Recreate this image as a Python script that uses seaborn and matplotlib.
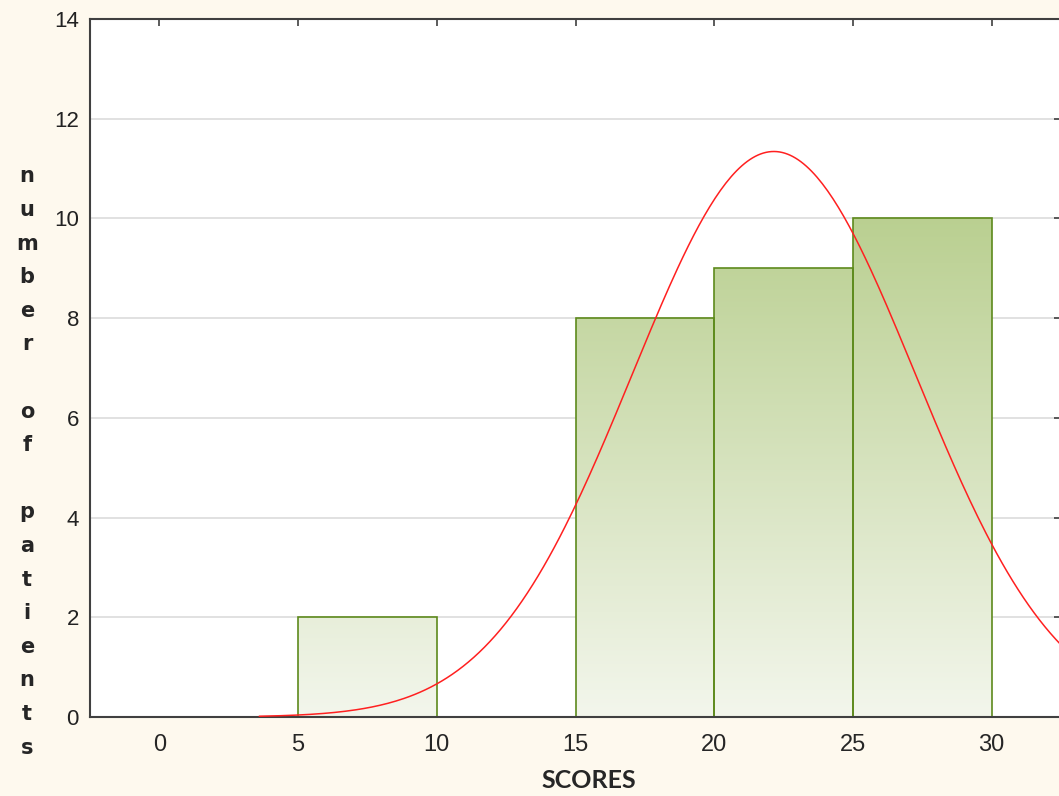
import numpy as np
import pandas as pd
import matplotlib.pyplot as plt
import seaborn as sns
from matplotlib.colors import LinearSegmentedColormap

# histogram data (bin start, count)
bin_starts = [0, 5, 10, 15, 20, 25]
counts = [0, 2, 0, 8, 9, 10]
bin_width = 5

# fitted normal curve parameters
fit_mean = 22.15
fit_sd = 5.1
curve_start = 3.6

x_ticks = [0, 5, 10, 15, 20, 25, 30]
y_ticks = [0, 2, 4, 6, 8, 10, 12, 14]
x_label = 'SCORES'
y_label = 'number of patients'

sns.set_style('white')
plt.rcParams['font.family'] = ['Liberation Sans', 'DejaVu Sans']

df = pd.DataFrame({'center': [b + bin_width / 2 for b in bin_starts], 'count': counts})

fig = plt.figure(figsize=(10.59, 7.96), dpi=100)
fig.patch.set_facecolor('#fef9ee')
ax = fig.add_axes([90 / 1059, 1 - 717 / 796, 971 / 1059, (717 - 19) / 796])
ax.set_facecolor('white')

sns.histplot(data=df, x='center', weights='count', binwidth=bin_width,
             binrange=(0, 30), ax=ax, fill=True, facecolor='none',
             edgecolor='#5d8a1c', linewidth=1.2, alpha=1)

ax.set_xlim(-2.5, 32.5)
ax.set_ylim(0, 14)

# vertical gradient fill, shared by all bars
cmap = LinearSegmentedColormap.from_list('g', ['#f3f6ec', '#b3cb86'])
grad = np.linspace(0, 1, 256).reshape(-1, 1)
for p in ax.patches:
    if p.get_height() <= 0:
        p.set_visible(False)
        continue
    im = ax.imshow(grad, cmap=cmap, origin='lower', aspect='auto',
                   extent=[-2.5, 32.5, 0, 11.2], zorder=1.5)
    im.set_clip_path(p)
    p.set_zorder(2)
ax.set_xlim(-2.5, 32.5)
ax.set_ylim(0, 14)

# normal fit curve scaled to counts
n_total = sum(counts)
xs = np.linspace(curve_start, 32.5, 300)
ys = n_total * bin_width / (fit_sd * np.sqrt(2 * np.pi)) * np.exp(-0.5 * ((xs - fit_mean) / fit_sd) ** 2)
sns.lineplot(x=xs, y=ys, ax=ax, color='#ff2020', linewidth=1.1, zorder=3)

ax.set_yticks(y_ticks)
ax.set_xticks(x_ticks)
ax.grid(axis='y', color='#dcdcdc', linewidth=1.2, zorder=0)
ax.set_axisbelow(True)
ax.tick_params(direction='in', length=5, width=1.2, color='#404040',
               top=True, right=True, labelsize=16, pad=8)
ax.tick_params(axis='x', pad=12)
for lab in ax.get_xticklabels():
    lab.set_fontsize(17)
for lab in ax.get_yticklabels():
    lab.set_color('#222222')
for s in ax.spines.values():
    s.set_color('#404040')
    s.set_linewidth(1.5)
ax.set_xlabel('')
ax.set_ylabel('')

# axis titles
fig.text(589 / 1059, 1 - 781 / 796, x_label, ha='center', va='center',
         fontsize=18, fontweight='bold', family=['Lato', 'DejaVu Sans'])
stacked = '\n'.join(y_label)
fig.text(27 / 1059, 1 - 462 / 796, stacked, ha='center', va='center',
         fontsize=15, fontweight='bold', linespacing=1.85, family='DejaVu Sans')

fig.savefig('out.png', dpi=100, facecolor=fig.get_facecolor())
